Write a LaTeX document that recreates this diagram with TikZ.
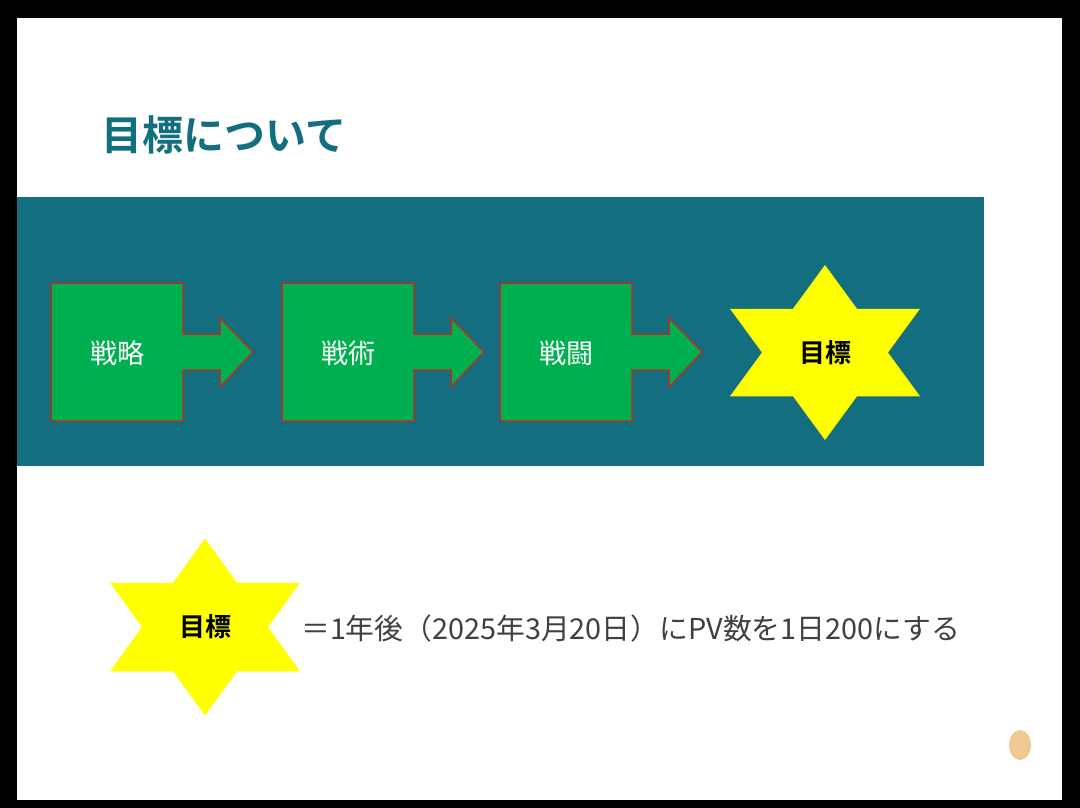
\documentclass[tikz,border=0pt]{standalone}
\usepackage{fontspec}
\setmainfont{Noto Sans CJK JP}
\newfontfamily\jpfont{Noto Sans CJK JP}
\newfontfamily\jpbold{Noto Sans CJK JP Bold}
\definecolor{teal}{HTML}{136E7F}
\definecolor{boxgreen}{HTML}{00B050}
\definecolor{boxedge}{HTML}{B0302A}
\definecolor{staryellow}{HTML}{FFFF00}
\definecolor{txtgray}{HTML}{404040}
\definecolor{dotorange}{HTML}{F0C894}
\begin{document}
\begin{tikzpicture}[x=1pt,y=-1pt,
  stepshape/.style={fill=boxgreen,draw=boxedge,line width=1.5pt,line join=miter},
  steptext/.style={text=white,font=\jpfont\fontsize{27}{27}\selectfont,inner sep=0pt},
  starshape/.style={fill=staryellow,draw=none},
  startext/.style={text=black,font=\jpbold\fontsize{26}{26}\selectfont,inner sep=0pt}]
\useasboundingbox (0,0) rectangle (1080,808);
\fill[black] (0,0) rectangle (1080,808);
\fill[white] (17,18) rectangle (1062,800);
% title
\node[anchor=west,text=teal,font=\jpbold\fontsize{41}{41}\selectfont,inner sep=0pt] (title) at (101,135) {目標について};
% band
\fill[teal] (17,197) rectangle (984,466);
% step shapes
\foreach \n/\x/\t in {b1/51/戦略, b2/282/戦術, b3/500/戦闘}{
  \draw[stepshape] (\x,283) -- ++(132,0) -- ++(0,51) -- ++(37,0) -- ++(0,-16)
    -- ++(33,34) -- ++(-33,35) -- ++(0,-17) -- ++(-37,0) -- ++(0,51) -- ++(-132,0) -- cycle;
  \node[steptext] (\n) at (\x+66,353) {\t};
}
% star 1
\coordinate (s1) at (825,352.5);
\fill[starshape] (s1) ++(0,-87.5) -- ++(32,43.75) -- ++(63,0) -- ++(-32,43.75)
  -- ++(32,43.75) -- ++(-63,0) -- ++(-32,43.75) -- ++(-32,-43.75) -- ++(-63,0)
  -- ++(32,-43.75) -- ++(-32,-43.75) -- ++(63,0) -- cycle;
\node[startext] (goal1) at (s1) {目標};
% star 2
\coordinate (s2) at (205,627);
\fill[starshape] (s2) ++(0,-88.5) -- ++(32,44.25) -- ++(63,0) -- ++(-32,44.25)
  -- ++(32,44.25) -- ++(-63,0) -- ++(-32,44.25) -- ++(-32,-44.25) -- ++(-63,0)
  -- ++(32,-44.25) -- ++(-32,-44.25) -- ++(63,0) -- cycle;
\node[startext] (goal2) at (s2) {目標};
% description
\node[anchor=west,text=txtgray,font=\jpfont\fontsize{28.8}{28.8}\selectfont,inner sep=0pt] (desc) at (301,629) {＝1年後（2025年3月20日）にPV数を1日200にする};
% dot
\fill[dotorange] (1020,745) ellipse [x radius=11, y radius=15];
\end{tikzpicture}
\end{document}
